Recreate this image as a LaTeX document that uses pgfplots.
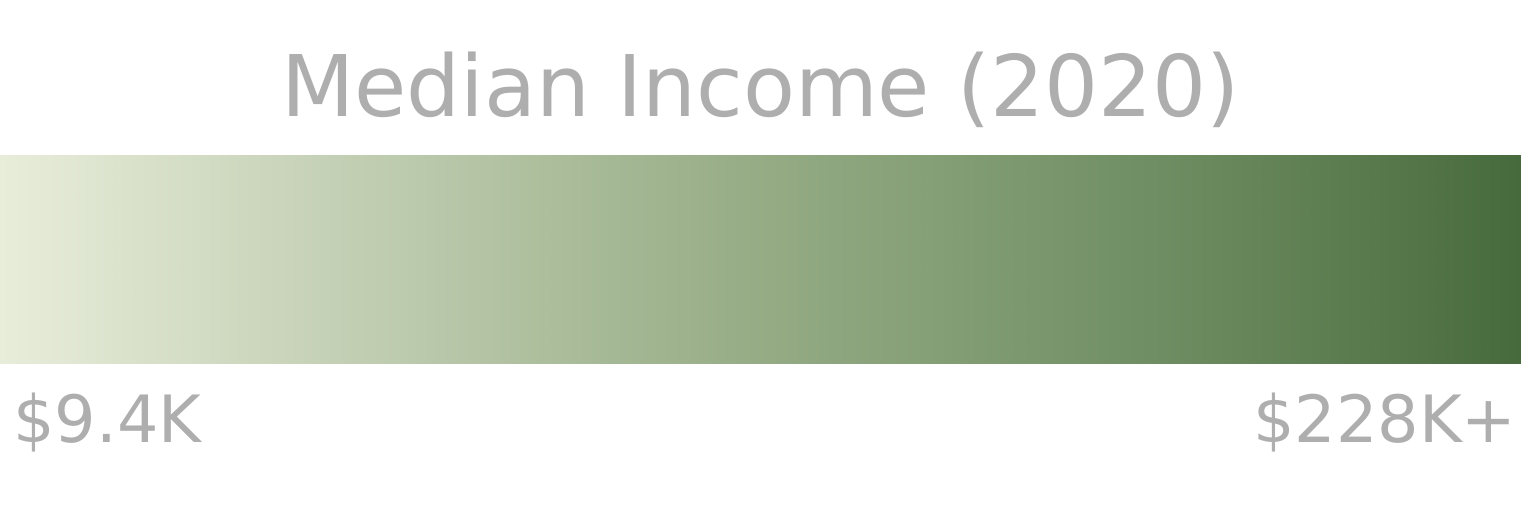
\documentclass[border=0pt]{standalone}
\usepackage{fontspec}
\setmainfont{DejaVu Sans}
\usepackage{pgfplots}
\pgfplotsset{compat=1.18}
\definecolor{txtgray}{HTML}{AEAEAE}
\begin{document}
\begin{tikzpicture}
\useasboundingbox (0,-76pt) rectangle (760.5pt,181.5pt);
\begin{axis}[
    at={(0,0)}, anchor=south west,
    scale only axis, width=760.5pt, height=104pt,
    hide axis,
    xmin=0, xmax=1, ymin=0, ymax=1,
    colormap={income}{
        rgb255(0)=(232,237,218)
        rgb255(19)=(201,212,186)
        rgb255(48)=(152,174,136)
        rgb255(80)=(105,137,93)
        rgb255(100)=(71,106,60)
    },
    point meta min=0, point meta max=1,
]
\addplot[surf, shader=interp, point meta=x] coordinates {
(0,0) (0.19,0) (0.48,0) (0.8,0) (1,0)

(0,1) (0.19,1) (0.48,1) (0.8,1) (1,1)
};
\end{axis}
\node[anchor=base, text=txtgray, font=\fontsize{42.5}{50}\selectfont] at (380.25pt,123.5pt) {Median Income (2020)};
\node[anchor=base west, text=txtgray, inner sep=0pt, font=\fontsize{32.6}{40}\selectfont] at (6.5pt,-39.5pt) {\$9.4K};
\node[anchor=base east, text=txtgray, inner sep=0pt, font=\fontsize{32.6}{40}\selectfont] at (758.5pt,-39.5pt) {\$228K+};
\end{tikzpicture}
\end{document}
